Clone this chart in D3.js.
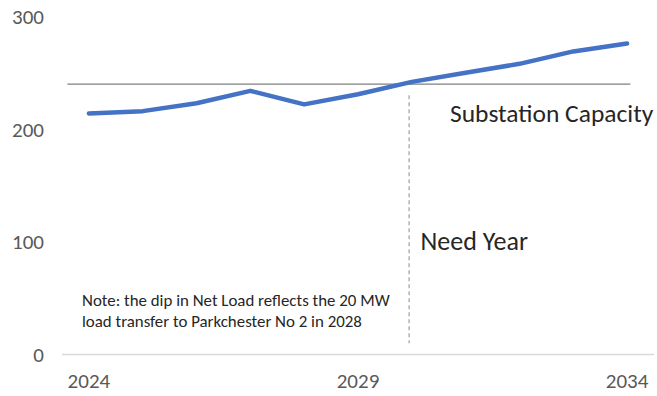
<!DOCTYPE html>
<html>
<head>
<meta charset="utf-8">
<script src="https://cdn.jsdelivr.net/npm/d3@7"></script>
<style>
  html, body { margin: 0; padding: 0; background: #fff; }
  svg { display: block; font-family: Carlito, Lato, "Open Sans", sans-serif; }
</style>
</head>
<body>
<svg id="chart" width="657" height="396"></svg>
<script>
// Net load forecast (MW) by year
const years = [2024, 2025, 2026, 2027, 2028, 2029, 2030, 2031, 2032, 2033, 2034];
const netLoad = [214, 216, 223, 234, 222, 231, 242, 250, 258, 269, 276];
const capacity = 240;
const needYear = 2029.95;
const yTicks = [0, 100, 200, 300];
const xTickLabels = [2024, 2029, 2034];
const noteLines = [
  "Note: the dip in Net Load reflects the 20 MW",
  "load transfer to Parkchester No 2 in 2028"
];

const svg = d3.select("#chart");

// Category band (axis line spans the bands), points sit at band centres
const band = d3.scaleBand().domain(years).range([62, 654]).padding(0);
const x = d3.scaleLinear()
  .domain([years[0], years[years.length - 1]])
  .range([band(years[0]) + band.bandwidth() / 2, band(years[years.length - 1]) + band.bandwidth() / 2]);
const y = d3.scaleLinear().domain([0, 300]).range([354.5, 16.5]);

// Horizontal category axis line
svg.append("line")
  .attr("x1", band.range()[0]).attr("x2", band.range()[1])
  .attr("y1", y(0)).attr("y2", y(0))
  .attr("stroke", "#d9d9d9").attr("stroke-width", 1.5);

// Y tick labels
svg.append("g").selectAll("text").data(yTicks).join("text")
  .attr("x", 44).attr("y", d => y(d))
  .attr("dy", "0.35em")
  .attr("text-anchor", "end")
  .attr("fill", "#595959")
  .style("font-size", "21px")
  .text(d => d);

// X tick labels
svg.append("g").selectAll("text").data(xTickLabels).join("text")
  .attr("x", d => x(d)).attr("y", 388)
  .attr("text-anchor", "middle")
  .attr("fill", "#595959")
  .style("font-size", "21px")
  .text(d => d);

// Substation capacity line
svg.append("line")
  .attr("x1", x(2023.6)).attr("x2", x(2034.06))
  .attr("y1", y(capacity)).attr("y2", y(capacity))
  .attr("stroke", "#7f7f7f").attr("stroke-width", 1.3);

svg.append("text")
  .attr("x", 450).attr("y", 121.5)
  .attr("fill", "#262626")
  .style("font-size", "25.5px")
  .text("Substation Capacity");

// Need year marker
svg.append("line")
  .attr("x1", x(needYear)).attr("x2", x(needYear))
  .attr("y1", y(230)).attr("y2", y(10))
  .attr("stroke", "#a6a6a6").attr("stroke-width", 1.3)
  .attr("stroke-dasharray", "4,3");

svg.append("text")
  .attr("x", 420.5).attr("y", 250)
  .attr("fill", "#262626")
  .style("font-size", "26px")
  .text("Need Year");

// Net load line
const line = d3.line().x((d, i) => x(years[i])).y(d => y(d));
svg.append("path")
  .datum(netLoad)
  .attr("d", line)
  .attr("fill", "none")
  .attr("stroke", "#4472c4")
  .attr("stroke-width", 4.5)
  .attr("stroke-linecap", "round")
  .attr("stroke-linejoin", "round");

// Note: sized so the first line spans about 308px
const note = svg.append("g").selectAll("text").data(noteLines).join("text")
  .attr("x", 82).attr("y", (d, i) => 306 + i * 21)
  .attr("fill", "#262626")
  .style("font-size", "16px")
  .text(d => d);
const w = note.nodes()[0].getComputedTextLength();
if (w > 0) note.style("font-size", (16 * 308 / w).toFixed(2) + "px");
</script>
</body>
</html>
